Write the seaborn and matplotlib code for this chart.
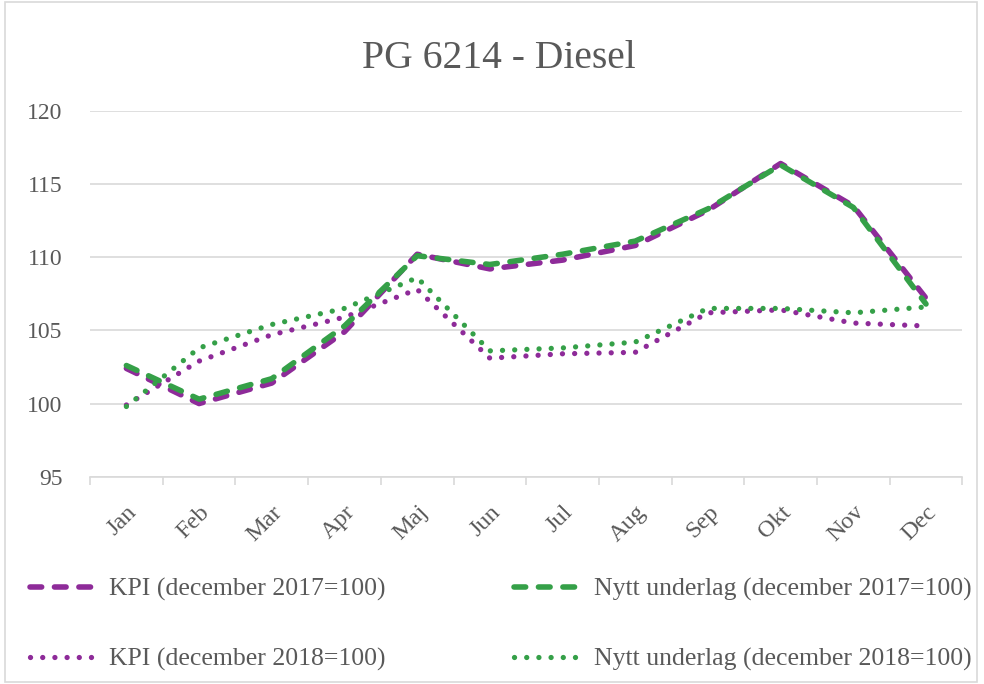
import pandas as pd
import matplotlib.pyplot as plt
import seaborn as sns
from matplotlib.patches import Rectangle

months = ["Jan", "Feb", "Mar", "Apr", "Maj", "Jun", "Jul", "Aug", "Sep", "Okt", "Nov", "Dec"]

kpi_2017 = [102.4, 100.0, 101.4, 104.9, 110.2, 109.2, 109.8, 110.8, 113.2, 116.4, 113.5, 107.2]
nytt_2017 = [102.6, 100.3, 101.7, 105.3, 110.1, 109.5, 110.2, 111.1, 113.3, 116.3, 113.4, 106.8]
kpi_2018 = [99.9, 102.9, 104.7, 105.9, 107.8, 103.1, 103.4, 103.5, 106.2, 106.4, 105.5, 105.3]
nytt_2018 = [99.8, 103.8, 105.4, 106.5, 108.6, 103.6, 103.8, 104.2, 106.5, 106.5, 106.2, 106.6]

labels = [
    "KPI (december 2017=100)",
    "KPI (december 2018=100)",
    "Nytt underlag (december 2017=100)",
    "Nytt underlag (december 2018=100)",
]

purple = "#8E2B99"
green = "#35A048"
grey_text = "#595959"

sns.set_theme(style="white")
plt.rcParams["font.family"] = ["Liberation Serif", "DejaVu Serif"]

frames = []
for lab, vals in zip(labels, [kpi_2017, kpi_2018, nytt_2017, nytt_2018]):
    frames.append(pd.DataFrame({"month": months, "value": vals, "series": lab}))
df = pd.concat(frames, ignore_index=True)

dash_long = (2.1, 2.3)
dash_dot = (0.01, 2.3)
styles = {
    labels[0]: dict(color=purple, lw=4.0, dashes=dash_long),
    labels[1]: dict(color=purple, lw=3.8, dashes=dash_dot),
    labels[2]: dict(color=green, lw=4.0, dashes=dash_long),
    labels[3]: dict(color=green, lw=3.8, dashes=dash_dot),
}

fig = plt.figure(figsize=(9.84, 6.84), dpi=100)
ax = fig.add_axes([0.0915, 0.303, 0.8865, 0.535])

for lab in labels:
    st = styles[lab]
    sub = df[df["series"] == lab]
    sns.lineplot(data=sub, x="month", y="value", ax=ax, color=st["color"],
                 linewidth=st["lw"], label=lab, sort=False)
    line = ax.lines[-1]
    line.set_dashes(st["dashes"])
    line.set_dash_capstyle("round")
    line.set_solid_capstyle("round")

ax.set_xlim(-0.5, 11.5)
ax.set_ylim(95, 120)
ax.set_yticks([95, 100, 105, 110, 115, 120])
ax.set_xlabel("")
ax.set_ylabel("")

ax.grid(axis="y", color="#D9D9D9", linewidth=1.2)
ax.set_axisbelow(True)
for side in ["left", "right", "top"]:
    ax.spines[side].set_visible(False)
ax.spines["bottom"].set_color("#D9D9D9")
ax.spines["bottom"].set_linewidth(1.2)

ax.set_xticks(range(len(months)))
ax.set_xticklabels(months, rotation=45, ha="right", rotation_mode="anchor")
ax.set_xticks([i - 0.5 for i in range(len(months) + 1)], minor=True)
ax.tick_params(axis="x", which="major", length=0, pad=18, labelsize=17.5, labelcolor=grey_text)
ax.tick_params(axis="x", which="minor", length=6, color="#D9D9D9", width=1.2, bottom=True)
ax.tick_params(axis="y", length=0, labelsize=17, labelcolor=grey_text, pad=20)

fig.text(0.507, 0.9, "PG 6214 - Diesel", ha="center", va="baseline",
         fontsize=28.5, color=grey_text)

ax.legend().remove()
handles, labs = ax.get_legend_handles_labels()
for h, lab in zip(handles, labs):
    h.set_dashes(styles[lab]["dashes"])
    h.set_dash_capstyle("round")
fig.legend(handles, labs, ncol=2, loc="upper left", bbox_to_anchor=(0.03, 0.155),
           frameon=False, fontsize=18.5, labelcolor=grey_text, handlelength=2.7,
           handletextpad=0.4, columnspacing=5.0, labelspacing=1.8,
           borderpad=0, borderaxespad=0)

fig.add_artist(Rectangle((0.005, 0.003), 0.988, 0.994, transform=fig.transFigure,
                         fill=False, edgecolor="#D9D9D9", linewidth=1.2))

fig.savefig("out.png", dpi=100)
